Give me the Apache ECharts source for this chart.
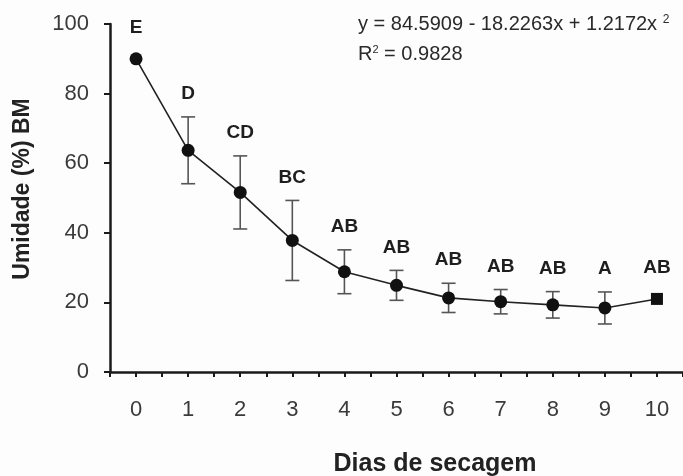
<!DOCTYPE html>
<html>
<head>
<meta charset="utf-8">
<script src="https://cdn.jsdelivr.net/npm/echarts@6/dist/echarts.min.js"></script>
<style>
  html, body { margin: 0; padding: 0; background: #fdfdfd; }
  #chart { width: 683px; height: 476px; }
</style>
</head>
<body>
<div id="chart"></div>
<script>
// Moisture content (% wet basis) over drying days
const dias = [0, 1, 2, 3, 4, 5, 6, 7, 8, 9, 10];
const umidade = [90.0, 63.7, 51.6, 37.8, 28.8, 24.9, 21.3, 20.2, 19.3, 18.4, 21.0];
const erro = [0, 9.6, 10.5, 11.5, 6.3, 4.3, 4.2, 3.5, 3.8, 4.6, 0];
const letras = ['E', 'D', 'CD', 'BC', 'AB', 'AB', 'AB', 'AB', 'AB', 'A', 'AB'];
const yTicks = [0, 20, 40, 60, 80, 100];
const equacao = 'y = 84.5909 - 18.2263x + 1.2172x ';
const r2 = '0.9828';

const FONT = '"Liberation Sans", Arial, sans-serif';
const pontos = dias.map((d, i) => ({
  value: [d, umidade[i]],
  symbol: i === dias.length - 1 ? 'rect' : 'circle',
  symbolSize: i === dias.length - 1 ? 12 : 13
}));
const barras = dias.map((d, i) => [d, umidade[i], erro[i], i]);

const chart = echarts.init(document.getElementById('chart'), null, { renderer: 'canvas' });
chart.setOption({
  backgroundColor: '#fdfdfd',
  animation: false,
  title: [
    {
      left: 353, top: 9,
      text: equacao + '{s|2}',
      textStyle: {
        fontFamily: FONT, fontSize: 20, fontWeight: 'normal', color: '#2a2a2a',
        rich: { s: { fontSize: 12, color: '#2a2a2a', fontFamily: FONT, padding: [0, 0, 9, 0] } }
      }
    },
    {
      left: 353, top: 39,
      text: 'R{s|2} = ' + r2,
      textStyle: {
        fontFamily: FONT, fontSize: 20, fontWeight: 'normal', color: '#2a2a2a',
        rich: { s: { fontSize: 11, color: '#2a2a2a', fontFamily: FONT, padding: [0, 0, 9, 0] } }
      }
    }
  ],
  grid: { left: 110, right: 0, top: 24, bottom: 104, containLabel: false, outerBoundsMode: 'none' },
  xAxis: {
    type: 'value',
    min: -0.5, max: 10.5, interval: 0.5,
    name: 'Dias de secagem',
    nameLocation: 'middle',
    nameGap: 80,
    nameTextStyle: { fontFamily: FONT, fontSize: 25, fontWeight: 'bold', color: '#222', padding: [0, 0, 0, 77] },
    axisLine: { show: true, onZero: false, lineStyle: { color: '#1a1a1a', width: 2.5 } },
    axisTick: { show: true, length: 5, lineStyle: { color: '#1a1a1a', width: 2 } },
    axisLabel: {
      margin: 27, fontFamily: FONT, fontSize: 22, color: '#3a3a3a',
      formatter: v => (Number.isInteger(v) && v >= 0 ? String(v) : '')
    },
    splitLine: { show: false }
  },
  yAxis: {
    type: 'value',
    min: yTicks[0], max: yTicks[yTicks.length - 1], interval: 20,
    name: 'Umidade (%) BM',
    nameLocation: 'middle',
    nameGap: 76,
    nameRotate: 90,
    nameTextStyle: { fontFamily: FONT, fontSize: 23, fontWeight: 'bold', color: '#222', padding: [0, 0, 0, 18] },
    axisLine: { show: true, onZero: false, lineStyle: { color: '#1a1a1a', width: 2.5 } },
    axisTick: { show: true, length: 6, lineStyle: { color: '#1a1a1a', width: 2 } },
    axisLabel: { margin: 21, fontFamily: FONT, fontSize: 22, color: '#3a3a3a' },
    splitLine: { show: false }
  },
  series: [
    {
      type: 'custom',
      z: 1,
      clip: false,
      data: barras,
      renderItem: function (params, api) {
        const x = api.value(0), y = api.value(1), e = api.value(2), i = api.value(3);
        const top = api.coord([x, y + e]);
        const bot = api.coord([x, y - e]);
        const cap = 7;
        const children = [];
        if (e > 0) {
          const st = { stroke: '#555', lineWidth: 1.6 };
          children.push(
            { type: 'line', shape: { x1: top[0], y1: top[1], x2: bot[0], y2: bot[1] }, style: st },
            { type: 'line', shape: { x1: top[0] - cap, y1: top[1], x2: top[0] + cap, y2: top[1] }, style: st },
            { type: 'line', shape: { x1: bot[0] - cap, y1: bot[1], x2: bot[0] + cap, y2: bot[1] }, style: st }
          );
        }
        children.push({
          type: 'text',
          style: {
            x: top[0], y: top[1] - (e > 0 ? 23 : 31),
            text: letras[i],
            fill: '#1e1e1e',
            font: 'bold 19px ' + FONT,
            align: 'center', verticalAlign: 'middle'
          }
        });
        return { type: 'group', children: children };
      }
    },
    {
      type: 'line',
      z: 3,
      data: pontos,
      lineStyle: { color: '#222', width: 1.6 },
      itemStyle: { color: '#111' },
      showSymbol: true
    }
  ]
});
</script>
</body>
</html>
